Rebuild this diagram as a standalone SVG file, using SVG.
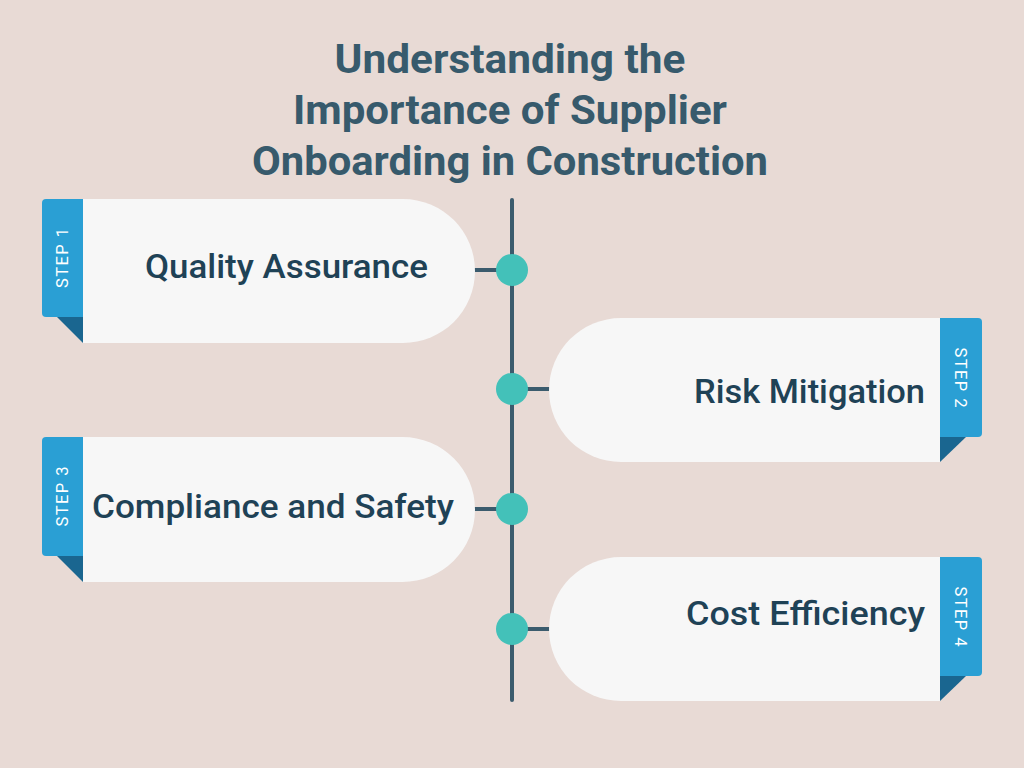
<svg xmlns="http://www.w3.org/2000/svg" width="1024" height="768" viewBox="0 0 1024 768">
<style>
.card{fill:#f7f7f7}
.tab{fill:#2a9fd4}
.fold{fill:#1a6690}
.dot{fill:#43c1b9}
.conn{stroke:#3b5b6d;stroke-width:4;stroke-linecap:round;fill:none}
.title{font-family:Roboto,"Liberation Sans",sans-serif;font-weight:700;font-size:41px;fill:#375a6c;text-anchor:middle}
.label{font-family:Roboto,"Liberation Sans",sans-serif;font-weight:500;font-size:34px;fill:#1f4256}
.step{font-family:Roboto,"Liberation Sans",sans-serif;font-weight:400;font-size:16.5px;fill:#ffffff;text-anchor:middle}
</style>
<rect width="1024" height="768" fill="#e8dad5"/>
<g id="title">
<text class="title" x="510" y="73" textLength="351" lengthAdjust="spacingAndGlyphs">Understanding the</text>
<text class="title" x="510" y="124" textLength="434" lengthAdjust="spacingAndGlyphs">Importance of Supplier</text>
<text class="title" x="510" y="175" textLength="516" lengthAdjust="spacingAndGlyphs">Onboarding in Construction</text>
</g>
<g id="connectors">
<line class="conn" x1="512" y1="200" x2="512" y2="700"/>
<line class="conn" x1="475" y1="270" x2="512" y2="270"/>
<line class="conn" x1="512" y1="389" x2="549" y2="389"/>
<line class="conn" x1="475" y1="509" x2="512" y2="509"/>
<line class="conn" x1="512" y1="629" x2="549" y2="629"/>
<circle class="dot" cx="512" cy="270" r="16"/>
<circle class="dot" cx="512" cy="389" r="16"/>
<circle class="dot" cx="512" cy="509" r="16"/>
<circle class="dot" cx="512" cy="629" r="16"/>
</g>
<g id="step1">
<path class="card" d="M83,199 H403 A72,72 0 0 1 403,343 H83 Z"/>
<path class="tab" d="M83,199 V317 H46 A4,4 0 0 1 42,313 V203 A4,4 0 0 1 46,199 Z"/>
<polygon class="fold" points="57,317 83,317 83,343"/>
<text class="step" transform="translate(68,258) rotate(-90)" textLength="60" lengthAdjust="spacing">STEP 1</text>
<text class="label" x="145" y="278" textLength="283" lengthAdjust="spacingAndGlyphs">Quality Assurance</text>
</g>
<g id="step2">
<path class="card" d="M940,318 H621 A72,72 0 0 0 621,462 H940 Z"/>
<path class="tab" d="M940,318 H978 A4,4 0 0 1 982,322 V433 A4,4 0 0 1 978,437 H940 Z"/>
<polygon class="fold" points="940,437 966,437 940,462"/>
<text class="step" transform="translate(955,377.5) rotate(90)" textLength="60" lengthAdjust="spacing">STEP 2</text>
<text class="label" x="694" y="403" textLength="231" lengthAdjust="spacingAndGlyphs">Risk Mitigation</text>
</g>
<g id="step3">
<path class="card" d="M83,437 H402.5 A72.5,72.5 0 0 1 402.5,582 H83 Z"/>
<path class="tab" d="M83,437 V556 H46 A4,4 0 0 1 42,552 V441 A4,4 0 0 1 46,437 Z"/>
<polygon class="fold" points="57,556 83,556 83,582"/>
<text class="step" transform="translate(68,496.5) rotate(-90)" textLength="60" lengthAdjust="spacing">STEP 3</text>
<text class="label" x="92" y="518" textLength="362" lengthAdjust="spacingAndGlyphs">Compliance and Safety</text>
</g>
<g id="step4">
<path class="card" d="M940,557 H621 A72,72 0 0 0 621,701 H940 Z"/>
<path class="tab" d="M940,557 H978 A4,4 0 0 1 982,561 V672 A4,4 0 0 1 978,676 H940 Z"/>
<polygon class="fold" points="940,676 966,676 940,701"/>
<text class="step" transform="translate(955,616.5) rotate(90)" textLength="60" lengthAdjust="spacing">STEP 4</text>
<text class="label" x="686" y="625" textLength="239" lengthAdjust="spacingAndGlyphs">Cost Efficiency</text>
</g>
</svg>
